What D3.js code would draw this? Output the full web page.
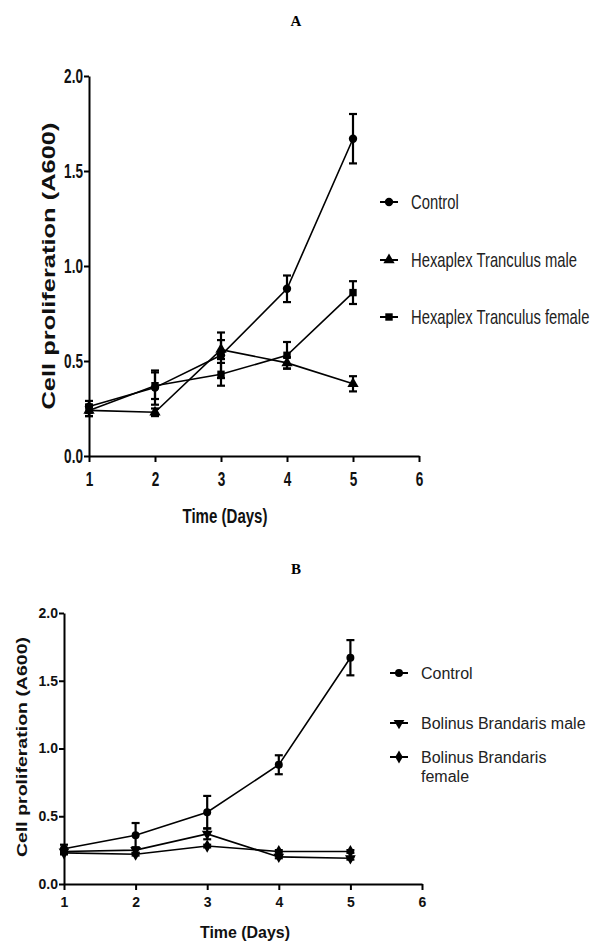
<!DOCTYPE html>
<html>
<head>
<meta charset="utf-8">
<script src="https://cdn.jsdelivr.net/npm/d3@7"></script>
<style>
  body { margin: 0; background: #fff; }
  svg { display: block; }
</style>
</head>
<body>
<svg width="592" height="941"></svg>
<script>
// days on the x axis
var days = [1, 2, 3, 4, 5];
var xTicks = [1, 2, 3, 4, 5, 6];
var yTicks = [0, 0.5, 1.0, 1.5, 2.0];

// panel A
var controlA = [0.26, 0.36, 0.53, 0.88, 1.67];
var controlErrA = [0.03, 0.09, 0.12, 0.07, 0.13];
var maleA = [0.24, 0.23, 0.56, 0.49, 0.38];
var maleErrA = [0.03, 0.02, 0.05, 0.03, 0.04];
var femaleA = [0.24, 0.37, 0.43, 0.53, 0.86];
var femaleErrA = [0.03, 0.07, 0.06, 0.07, 0.06];
var namesA = ["Control", "Hexaplex Tranculus male", "Hexaplex Tranculus female"];

// panel B
var controlB = [0.26, 0.36, 0.53, 0.88, 1.67];
var controlErrB = [0.03, 0.09, 0.12, 0.07, 0.13];
var maleB = [0.24, 0.25, 0.37, 0.20, 0.19];
var maleErrB = [0.02, 0.02, 0.04, 0.01, 0.01];
var femaleB = [0.23, 0.22, 0.28, 0.24, 0.24];
var femaleErrB = [0.01, 0.01, 0.01, 0.01, 0.01];
var namesB = ["Control", "Bolinus Brandaris male", ["Bolinus Brandaris", "female"]];

var sans = "Liberation Sans, Arial, sans-serif";
var svg = d3.select("svg");

svg.append("text").attr("x", 296).attr("y", 26).attr("text-anchor", "middle")
  .attr("font-family", "Liberation Serif, Times New Roman, serif")
  .attr("font-weight", "bold").attr("font-size", 15).text("A");
svg.append("text").attr("x", 296).attr("y", 574).attr("text-anchor", "middle")
  .attr("font-family", "Liberation Serif, Times New Roman, serif")
  .attr("font-weight", "bold").attr("font-size", 15).text("B");

function marker(g, type, x, y, size) {
  var sym, rot = 0;
  if (type == "circle") sym = d3.symbolCircle;
  if (type == "triangle") sym = d3.symbolTriangle;
  if (type == "down") { sym = d3.symbolTriangle; rot = 180; }
  if (type == "square") sym = d3.symbolSquare;
  if (type == "diamond") sym = d3.symbolDiamond;
  g.append("path")
    .attr("d", d3.symbol().type(sym).size(size)())
    .attr("transform", "translate(" + x + "," + y + ") rotate(" + rot + ")")
    .attr("fill", "#000");
}

function drawPanel(p) {
  var x = d3.scaleLinear().domain([1, 6]).range(p.xRange);
  var y = d3.scaleLinear().domain([0, 2]).range(p.yRange);
  var g = svg.append("g");
  var sx = p.tickScale;

  var yAxis = g.append("g").attr("transform", "translate(" + p.xRange[0] + ",0)")
    .call(d3.axisLeft(y).tickValues(yTicks).tickFormat(d3.format(".1f")).tickSize(5).tickSizeOuter(0));
  var xAxis = g.append("g").attr("transform", "translate(0," + p.yRange[0] + ")")
    .call(d3.axisBottom(x).tickValues(xTicks).tickFormat(d3.format("d")).tickSize(6).tickSizeOuter(0));
  [yAxis, xAxis].forEach(function(a) {
    a.selectAll("path, line").attr("stroke", "#000").attr("stroke-width", 2);
    a.selectAll("text").attr("fill", "#111")
      .attr("font-family", sans).attr("font-weight", "bold").attr("font-size", p.tickSize)
      .attr("transform", "scale(" + sx + ",1)");
  });
  yAxis.selectAll("text").attr("x", -6 / sx);
  xAxis.selectAll("text").attr("y", p.xLabelDy);

  g.append("text")
    .attr("transform", "translate(" + p.yTitle[0] + "," + p.yTitle[1] + ") rotate(-90)")
    .attr("text-anchor", "middle").attr("dominant-baseline", "middle")
    .attr("font-family", sans).attr("font-weight", "bold")
    .attr("font-size", p.yTitleSize).attr("textLength", p.yTitleLen).attr("lengthAdjust", "spacingAndGlyphs")
    .attr("fill", "#111")
    .text("Cell proliferation (A600)");

  g.append("text").attr("x", p.xTitle[0] - p.xTitleLen / 2).attr("y", p.xTitle[1])
    .attr("font-family", sans).attr("font-weight", "bold").attr("font-size", p.xTitleSize)
    .attr("textLength", p.xTitleLen).attr("lengthAdjust", "spacingAndGlyphs")
    .attr("fill", "#111").text("Time (Days)");

  var line = d3.line().x(function(d, i) { return x(days[i]); }).y(function(d) { return y(d); });

  p.series.forEach(function(s) {
    g.append("path").datum(s.values).attr("d", line)
      .attr("fill", "none").attr("stroke", "#000").attr("stroke-width", 1.6);
    s.values.forEach(function(v, i) {
      var cx = x(days[i]);
      var e = s.errs[i];
      var eb = g.append("g").attr("stroke", "#000").attr("stroke-width", 2.2);
      eb.append("line").attr("x1", cx).attr("x2", cx).attr("y1", y(v - e)).attr("y2", y(v + e));
      eb.append("line").attr("x1", cx - 4).attr("x2", cx + 4).attr("y1", y(v - e)).attr("y2", y(v - e));
      eb.append("line").attr("x1", cx - 4).attr("x2", cx + 4).attr("y1", y(v + e)).attr("y2", y(v + e));
      marker(g, s.shape, cx, y(v), s.size);
    });
  });

  // legend
  p.series.forEach(function(s, i) {
    var ly = p.legendY[i];
    g.append("line").attr("x1", p.legendX - 9).attr("x2", p.legendX + 9)
      .attr("y1", ly).attr("y2", ly).attr("stroke", "#000").attr("stroke-width", 2);
    marker(g, s.shape, p.legendX, ly, s.size);
    var t = g.append("g").attr("transform", "translate(" + (p.legendX + 22) + "," + ly + ")")
      .append("text").attr("transform", "scale(" + p.legendScale + ",1)")
      .attr("dy", "0.35em").attr("font-family", sans).attr("font-size", p.legendSize)
      .attr("fill", "#222");
    var name = p.names[i];
    if (Array.isArray(name)) {
      name.forEach(function(n, k) {
        t.append("tspan").attr("x", 0).attr("dy", k == 0 ? "0.35em" : "1.2em").text(n);
      });
    } else {
      t.text(name);
    }
  });
}

drawPanel({
  xRange: [89, 419], yRange: [456, 76],
  tickSize: 20, tickScale: 0.68, xLabelDy: 16,
  yTitle: [50, 266], yTitleSize: 18, yTitleLen: 287,
  xTitle: [225, 523], xTitleSize: 20, xTitleLen: 85,
  legendX: 389, legendY: [202, 260, 317], legendSize: 20, legendScale: 0.74,
  names: namesA,
  series: [
    { values: controlA, errs: controlErrA, shape: "circle", size: 55 },
    { values: maleA, errs: maleErrA, shape: "triangle", size: 55 },
    { values: femaleA, errs: femaleErrA, shape: "square", size: 55 }
  ]
});

drawPanel({
  xRange: [64, 422], yRange: [884, 613],
  tickSize: 14, tickScale: 1, xLabelDy: 13,
  yTitle: [23, 747], yTitleSize: 15, yTitleLen: 220,
  xTitle: [245, 938], xTitleSize: 16, xTitleLen: 90,
  legendX: 399, legendY: [673, 723, 757], legendSize: 16, legendScale: 1,
  names: namesB,
  series: [
    { values: controlB, errs: controlErrB, shape: "circle", size: 50 },
    { values: maleB, errs: maleErrB, shape: "down", size: 50 },
    { values: femaleB, errs: femaleErrB, shape: "diamond", size: 50 }
  ]
});
</script>
</body>
</html>
